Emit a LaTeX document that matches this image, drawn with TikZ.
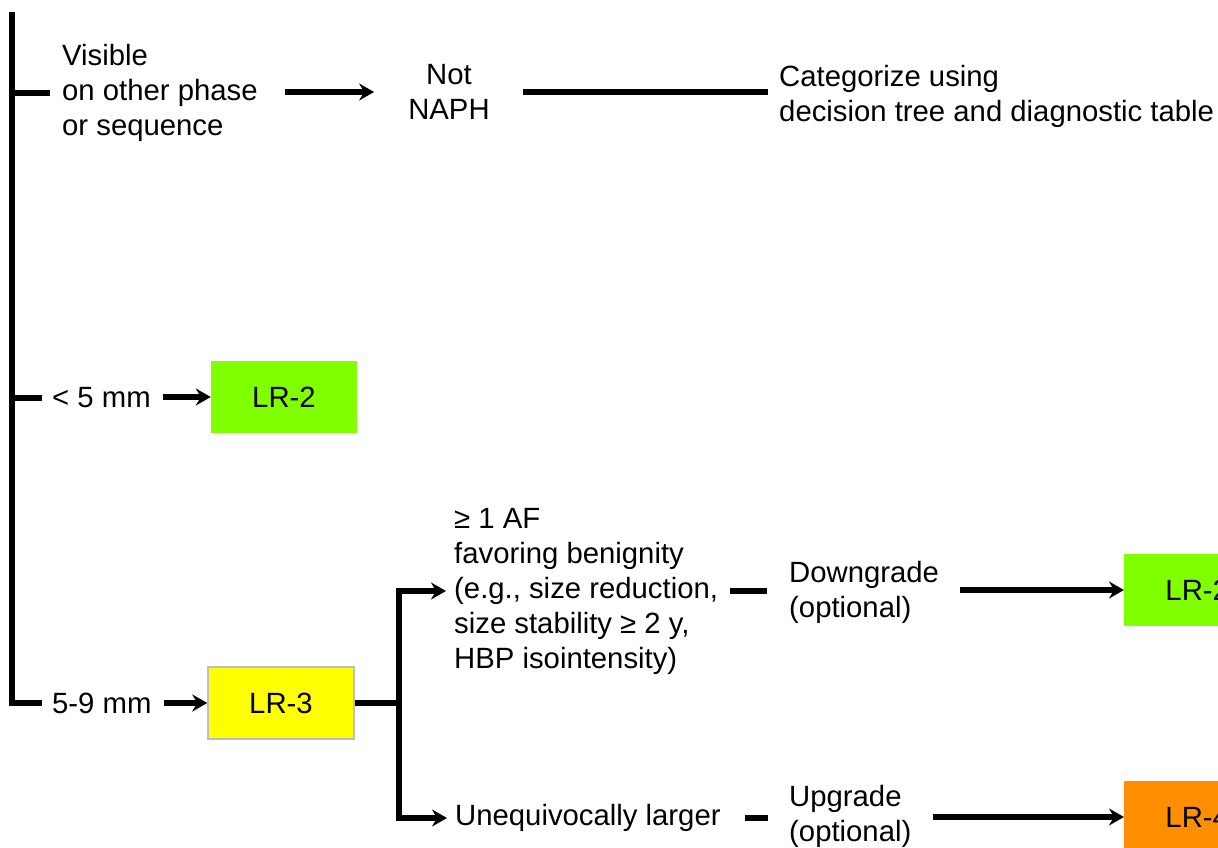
\documentclass[tikz,border=0pt]{standalone}
\usepackage{fontspec}
\setmainfont{Liberation Sans}
\usetikzlibrary{arrows.meta}
\definecolor{lrgreen}{RGB}{128,255,0}
\definecolor{lryellow}{RGB}{255,255,0}
\definecolor{lrgray}{RGB}{190,190,190}
\definecolor{lrorange}{RGB}{255,143,0}
\tikzset{
  txt/.style={inner sep=0pt, align=left, anchor=west},
  ln/.style={line width=5.5pt},
  arr/.style={ln, line join=miter, -{Stealth[length=15pt,width=17pt,inset=5pt]}},
  lrbox/.style={minimum width=146pt, minimum height=72pt, inner sep=0pt},
}
\begin{document}
\begin{tikzpicture}[x=1pt,y=-1pt,font=\fontsize{29.3}{35}\selectfont]
\useasboundingbox (0,0) rectangle (1218,848);
\clip (0,0) rectangle (1218,848);
\coordinate (bartop) at (12,12);
\coordinate (barbot) at (12,703);
\coordinate (split) at (399,703);
\node[txt] (vis) at (62,93) {Visible\\on other phase\\or sequence};
\node[inner sep=0pt, align=center] (naph) at (449,92) {Not\\NAPH};
\node[txt] (cat) at (779,96) {Categorize using\\decision tree and diagnostic table};
\node[txt] (lt5) at (52,398) {< 5 mm};
\node[lrbox, fill=lrgreen] (lr2a) at (284,397) {LR-2};
\node[txt] (r59) at (52,703) {5-9 mm};
\node[lrbox, fill=lryellow, draw=lrgray, line width=1.5pt] (lr3) at (281,703) {LR-3};
\node[txt] (af) at (454,591) {≥ 1 AF\\favoring benignity\\(e.g., size reduction,\\size stability ≥ 2 y,\\HBP isointensity)};
\node[txt] (down) at (789,592) {Downgrade\\(optional)};
\node[lrbox, fill=lrgreen, anchor=west] (lr2b) at (1124,590) {LR-2};
\node[txt] (larger) at (455,818) {Unequivocally larger};
\node[txt] (up) at (789,816) {Upgrade\\(optional)};
\node[lrbox, fill=lrorange, anchor=west] (lr4) at (1124,817) {LR-4};
% trunk and branches
\draw[ln, line width=6pt, line join=miter] (bartop) -- (barbot) -- ([xshift=-10pt]r59.west);
\draw[ln] (bartop |- vis.west) -- ([xshift=-12pt]vis.west);
\draw[ln] (bartop |- lt5.west) -- ([xshift=-10pt]lt5.west);
% top branch
\draw[arr] ([xshift=27pt]vis.east |- naph.west) -- ([xshift=-34pt]naph.west);
\draw[ln] ([xshift=33pt]naph.east) -- ([xshift=-11pt]cat.west |- naph.east);
% size branches
\draw[arr] ([xshift=12pt]lt5.east |- lr2a.west) -- (lr2a.west);
\draw[arr] ([xshift=12pt]r59.east |- lr3.west) -- (lr3.west);
\draw[ln] (lr3.east) -- (split);
\draw[arr] (split) |- ([xshift=-8pt]af.west);
\draw[arr] (split) |- ([xshift=-8pt]larger.west);
% downgrade
\draw[ln] ([xshift=12pt]af.east) -- ([xshift=-22pt]down.west |- af.east);
\draw[arr] ([xshift=21pt]down.east |- lr2b.west) -- (lr2b.west);
% upgrade
\draw[ln] ([xshift=24pt]larger.east) -- ([xshift=-21pt]up.west |- larger.east);
\draw[arr] ([xshift=21pt]up.east |- lr4.west) -- (lr4.west);
\end{tikzpicture}
\end{document}
